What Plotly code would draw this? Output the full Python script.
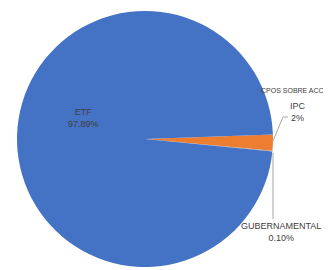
import plotly.graph_objects as go

labels = ["CPOS SOBRE ACC", "GUBERNAMENTAL", "ETF"]
values = [2.01, 0.10, 97.89]
text_pct = ["2%", "0.10%", "97.89%"]
colors = ["#ED7D31", "#A5A5A5", "#4472C4"]

W, H = 331, 270
OFF = 8  # page body margin

def px(x):
    return (x - OFF) / W

def py(y):
    return 1 - (y - OFF) / H

fig = go.Figure(go.Pie(
    labels=labels,
    values=values,
    sort=False,
    direction="clockwise",
    rotation=88,
    marker=dict(colors=colors, line=dict(width=0)),
    textinfo="none",
    hoverinfo="label+percent",
    showlegend=False,
    domain=dict(x=[px(17), px(273)], y=[py(267), py(11)]),
))

font = dict(family="Liberation Sans, Arial, sans-serif", size=9, color="#404040")

def ann(text, x, y, xanchor="center", size=9):
    f = dict(font)
    f["size"] = size
    fig.add_annotation(
        x=px(x), y=py(y), xref="paper", yref="paper",
        text=text, showarrow=False, font=f,
        xanchor=xanchor, yanchor="middle", align="center",
    )

# CPOS label
ann(labels[0], 259, 90, xanchor="left", size=7)
ann("IPC<br>" + text_pct[0], 298, 112)
# GUBERNAMENTAL label
ann(labels[1] + "<br>" + text_pct[1], 281, 232)
# ETF label
ann(labels[2] + "<br>" + text_pct[2], 83, 118)

line_style = dict(color="#A6A6A6", width=1)
# leader lines
fig.add_shape(type="line", xref="paper", yref="paper",
              x0=px(273), y0=py(141), x1=px(283), y1=py(117), line=line_style)
fig.add_shape(type="line", xref="paper", yref="paper",
              x0=px(283), y0=py(117), x1=px(288), y1=py(117), line=line_style)
fig.add_shape(type="line", xref="paper", yref="paper",
              x0=px(273), y0=py(153), x1=px(273), y1=py(219), line=line_style)

fig.update_layout(
    width=W, height=H,
    margin=dict(l=0, r=0, t=0, b=0),
    paper_bgcolor="white",
    plot_bgcolor="white",
)

fig.write_html("out.html")
